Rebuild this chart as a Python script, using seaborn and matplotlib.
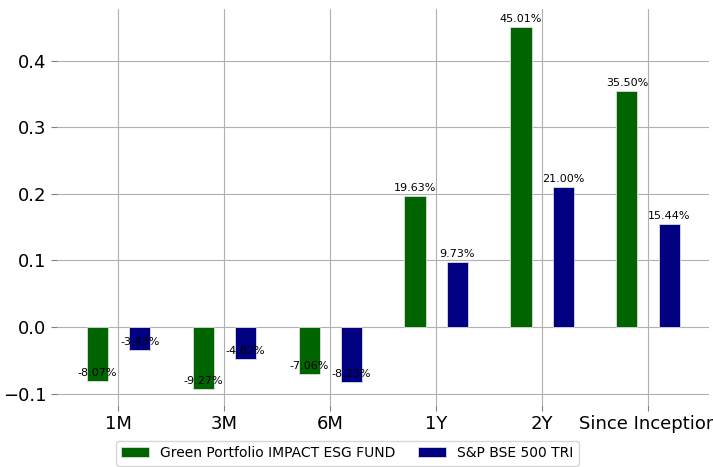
import matplotlib.pyplot as plt
import seaborn as sns
import pandas as pd

periods = ['1M', '3M', '6M', '1Y', '2Y', 'Since Inception']
fund_name = 'Green Portfolio IMPACT ESG FUND'
bench_name = 'S&P BSE 500 TRI'
fund_returns = [-0.0807, -0.0927, -0.0706, 0.1963, 0.4501, 0.3550]
bench_returns = [-0.0343, -0.0482, -0.0823, 0.0973, 0.2100, 0.1544]

df = pd.DataFrame({
    'period': periods * 2,
    'series': [fund_name] * len(periods) + [bench_name] * len(periods),
    'ret': fund_returns + bench_returns,
})

sns.set_style('white')
plt.rcParams['text.color'] = 'black'
fig, ax = plt.subplots(figsize=(7.13, 4.67), dpi=100)
fig.subplots_adjust(left=0.08, right=0.995, top=0.98, bottom=0.133)

sns.barplot(data=df, x='period', y='ret', hue='series',
            palette=['darkgreen', 'navy'], saturation=1, width=0.8, gap=0.5,
            edgecolor='#dddddd', linewidth=0.6, ax=ax, legend=True)

for cont in ax.containers:
    ax.bar_label(cont, labels=[f'{v * 100:.2f}%' for v in cont.datavalues],
                 fontsize=8, padding=2, label_type='edge', color='black')
# bar_label puts negative labels below the bar; move them up onto the bar end
for t in ax.texts:
    if t.get_text().startswith('-'):
        t.set_va('bottom')
        t.xyann = (0, 2)

ax.set_xlim(-0.58, 5.58)
ax.set_ylim(-0.117, 0.477)
ax.set_xlabel('')
ax.set_ylabel('')
ax.grid(True, color='#b0b0b0', linewidth=0.8)
ax.set_axisbelow(True)
ax.tick_params(axis='both', labelsize=13, length=4, color='#808080',
               labelcolor='black', left=True, bottom=True)
sns.despine(ax=ax, left=True, bottom=True)

handles, labels = ax.get_legend_handles_labels()
ax.get_legend().remove()
fig.legend(handles, labels, loc='lower center', bbox_to_anchor=(0.487, -0.012),
           ncol=2, fontsize=10, frameon=True, handlelength=2,
           columnspacing=1.6)

fig.savefig('out.png', dpi=100)
